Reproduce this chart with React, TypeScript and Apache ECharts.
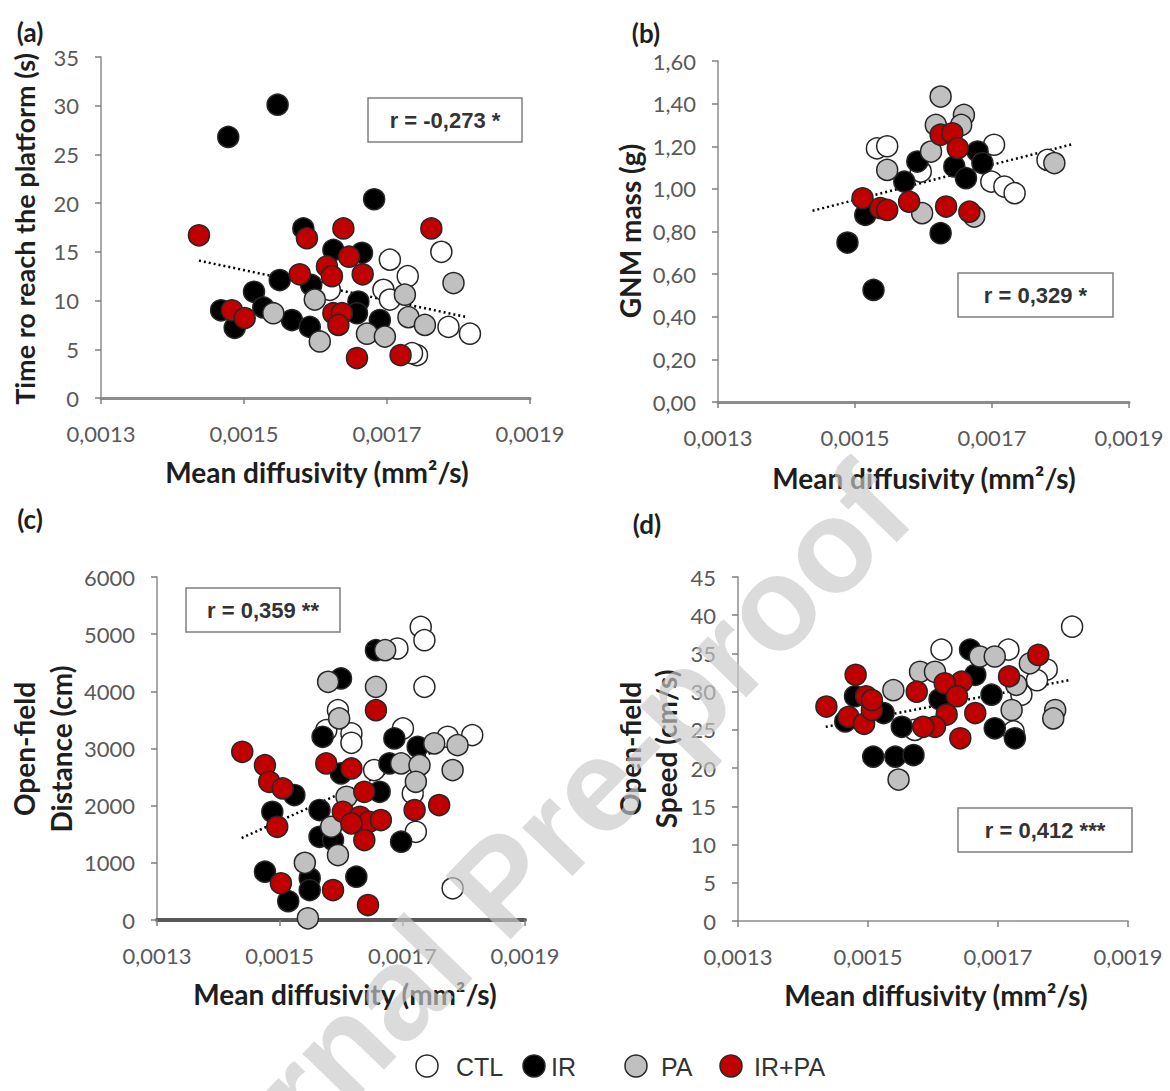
import React, { useEffect, useRef } from "react";
import * as echarts from "echarts";

type Pt = [number, number];

const GROUPS = ["CTL", "IR", "PA", "IR+PA"];
const GROUP_COLORS = ["#ffffff", "#000000", "#c0c0c0", "#c00000"];
const X_TICKS = [0.0013, 0.0015, 0.0017, 0.0019];

// (a) Time to reach the platform (s)
const A_CTL: Pt[] = [[0.001776, 15.0], [0.001704, 14.2], [0.001729, 12.5], [0.00162, 11.1], [0.001695, 11.1], [0.001704, 10.1], [0.001786, 7.3], [0.001816, 6.6], [0.001742, 4.4], [0.001735, 4.6]];
const A_IR: Pt[] = [[0.001478, 26.8], [0.001547, 30.1], [0.001468, 9.0], [0.001487, 7.2], [0.001514, 10.9], [0.001527, 9.3], [0.00155, 12.1], [0.001567, 8.0], [0.001583, 17.4], [0.001682, 20.4], [0.001625, 15.2], [0.001665, 14.9], [0.001594, 11.6], [0.00166, 9.9], [0.001658, 8.7], [0.00169, 8.0], [0.001592, 7.3]];
const A_PA: Pt[] = [[0.001541, 8.7], [0.001599, 10.1], [0.001725, 10.6], [0.001793, 11.8], [0.00173, 8.3], [0.001753, 7.5], [0.001606, 5.8], [0.001672, 6.6], [0.001697, 6.3]];
const A_IRPA: Pt[] = [[0.001437, 16.7], [0.001483, 9.0], [0.001501, 8.2], [0.001588, 16.4], [0.001639, 17.4], [0.001762, 17.4], [0.001647, 14.5], [0.001616, 13.5], [0.001578, 12.7], [0.001623, 12.5], [0.001666, 12.7], [0.001625, 8.7], [0.001637, 8.7], [0.001632, 7.5], [0.001658, 4.1], [0.001719, 4.4]];
const A_TREND: Pt[] = [[0.001437, 14.1], [0.001812, 8.3]];

// (b) GNM mass (g)
const B_CTL: Pt[] = [[0.001532, 1.19], [0.001547, 1.2], [0.001703, 1.207], [0.001596, 1.081], [0.001699, 1.034], [0.001718, 1.011], [0.001733, 0.98], [0.001781, 1.136]];
const B_IR: Pt[] = [[0.001515, 0.878], [0.001489, 0.748], [0.001527, 0.526], [0.001679, 1.175], [0.001686, 1.121], [0.001645, 1.105], [0.001591, 1.128], [0.001572, 1.034], [0.001662, 1.05], [0.001625, 0.792]];
const B_PA: Pt[] = [[0.001625, 1.433], [0.001659, 1.347], [0.001655, 1.3], [0.001618, 1.3], [0.001611, 1.175], [0.001547, 1.089], [0.001791, 1.121], [0.001598, 0.886], [0.001674, 0.87]];
const B_IRPA: Pt[] = [[0.001511, 0.956], [0.001537, 0.91], [0.001547, 0.901], [0.001579, 0.94], [0.001633, 0.917], [0.001667, 0.893], [0.001625, 1.254], [0.001642, 1.261], [0.00165, 1.191]];
const B_TREND: Pt[] = [[0.001438, 0.897], [0.001819, 1.211]];

// (c) Open-field distance (cm)
const C_CTL: Pt[] = [[0.00173, 5127], [0.001736, 4894], [0.001692, 4749], [0.001736, 4078], [0.001595, 3671], [0.001576, 3321], [0.001617, 3263], [0.001617, 3100], [0.001701, 3351], [0.001774, 3205], [0.001814, 3234], [0.001654, 2622], [0.001717, 2215], [0.001722, 1543], [0.001782, 554]];
const C_IR: Pt[] = [[0.001524, 2185], [0.001488, 1893], [0.001476, 845], [0.001514, 330], [0.001657, 4720], [0.0016, 4225], [0.00157, 3205], [0.001687, 3176], [0.001725, 3030], [0.001679, 2739], [0.0016, 2564], [0.001663, 2243], [0.001565, 1923], [0.001565, 1456], [0.001587, 1398], [0.001698, 1369], [0.001549, 729], [0.001549, 524], [0.001625, 757]];
const C_PA: Pt[] = [[0.001541, 1000], [0.001672, 4720], [0.001579, 4166], [0.001657, 4078], [0.001597, 3526], [0.001752, 3089], [0.00179, 3059], [0.001782, 2622], [0.001698, 2739], [0.001728, 2709], [0.001722, 2418], [0.001609, 2155], [0.001584, 1631], [0.001595, 1136], [0.001546, 30]];
const C_IRPA: Pt[] = [[0.001439, 2942], [0.001476, 2709], [0.001483, 2418], [0.001505, 2302], [0.001496, 1631], [0.001502, 641], [0.001657, 3671], [0.001576, 2739], [0.001617, 2651], [0.001638, 2243], [0.00172, 1923], [0.00176, 2010], [0.001603, 1893], [0.001631, 1806], [0.001646, 1718], [0.001665, 1748], [0.001617, 1690], [0.001638, 1398], [0.001587, 524], [0.001644, 262]];
const C_TREND: Pt[] = [[0.001438, 1434], [0.001814, 3250]];

// (d) Open-field speed (cm/s)
const D_CTL: Pt[] = [[0.001814, 38.5], [0.001613, 35.5], [0.001716, 35.5], [0.001775, 32.9], [0.001736, 29.6], [0.001724, 24.8], [0.001572, 25.0], [0.00176, 31.5]];
const D_IR: Pt[] = [[0.00148, 29.4], [0.001465, 26.1], [0.001508, 21.5], [0.001657, 35.5], [0.001726, 23.9], [0.001695, 25.2], [0.00169, 29.6], [0.001665, 32.2], [0.001552, 25.4], [0.001524, 27.2], [0.001542, 21.5], [0.00157, 21.7], [0.00161, 29.0]];
const D_PA: Pt[] = [[0.001672, 34.6], [0.001695, 34.6], [0.001749, 33.7], [0.001728, 30.9], [0.001721, 27.6], [0.001788, 27.6], [0.001785, 26.5], [0.00158, 32.6], [0.001603, 32.6], [0.001539, 30.2], [0.001547, 18.5]];
const D_IRPA: Pt[] = [[0.001436, 28.05], [0.001481, 32.2], [0.001497, 29.4], [0.00147, 26.7], [0.001494, 25.8], [0.001506, 27.6], [0.001762, 34.8], [0.001717, 32.0], [0.001644, 31.3], [0.001618, 31.1], [0.001637, 29.4], [0.001575, 30.0], [0.001665, 27.2], [0.001621, 27.0], [0.001603, 25.4], [0.001585, 25.4], [0.001642, 23.9], [0.001506, 28.9]];
const D_TREND: Pt[] = [[0.001435, 25.4], [0.001809, 31.5]];

const R_LABELS = ["r = -0,273 *", "r = 0,329 *", "r = 0,359 **", "r = 0,412 ***"];
const Y_NAMES = ["Time ro reach the platform (s)", "GNM mass (g)", "Open-field\nDistance (cm)", "Open-field\nSpeed (cm/s)"];
const X_NAME = "Mean diffusivity (mm²/s)";
const PANEL_LETTERS = ["(a)", "(b)", "(c)", "(d)"];

const PANELS = [
  { grid: { left: 101, top: 57, width: 429, height: 341 }, yMax: 35, yInt: 5, dec: 0, series: [A_CTL, A_IR, A_PA, A_IRPA], trend: A_TREND, xw: 3, xc: "#8c8c8c" },
  { grid: { left: 718, top: 61, width: 411, height: 341 }, yMax: 1.6, yInt: 0.2, dec: 2, series: [B_CTL, B_IR, B_PA, B_IRPA], trend: B_TREND, xw: 3, xc: "#8c8c8c" },
  { grid: { left: 157, top: 577, width: 368, height: 343 }, yMax: 6000, yInt: 1000, dec: 0, series: [C_CTL, C_IR, C_PA, C_IRPA], trend: C_TREND, xw: 4, xc: "#5a5a5a" },
  { grid: { left: 738, top: 577, width: 390, height: 344 }, yMax: 45, yInt: 5, dec: 0, series: [D_CTL, D_IR, D_PA, D_IRPA], trend: D_TREND, xw: 1.5, xc: "#8c8c8c" },
];

const LABEL_FONT = "Lato";
const TICK_COLOR = "#595959";

function text(t: string, x: number, y: number, o: any = {}) {
  return {
    type: "text",
    x,
    y,
    rotation: o.rot || 0,
    z: o.z || 50,
    silent: true,
    style: {
      text: t,
      fill: o.color || "#1e1e1e",
      fontSize: o.size || 24,
      fontWeight: o.weight || "bold",
      fontFamily: o.family || LABEL_FONT,
      textAlign: o.align || "center",
      textVerticalAlign: "middle",
      lineHeight: o.lh,
    },
  };
}

function buildOption() {
  const grid = PANELS.map((p) => ({ ...p.grid, containLabel: false }));
  const xAxis = PANELS.map((p, i) => ({
    gridIndex: i,
    type: "value",
    min: 0.0013,
    max: 0.0019,
    axisLine: { show: true, onZero: false, lineStyle: { color: p.xc, width: p.xw } },
    axisTick: { show: true, customValues: X_TICKS, length: 6, lineStyle: { color: "#7f7f7f", width: 1.5 } },
    axisLabel: {
      customValues: X_TICKS,
      formatter: (v: number) => v.toFixed(4).replace(".", ","),
      color: TICK_COLOR,
      fontSize: 22,
      fontFamily: LABEL_FONT,
      margin: 24,
    },
    splitLine: { show: false },
  }));
  const yAxis = PANELS.map((p, i) => ({
    gridIndex: i,
    type: "value",
    min: 0,
    max: p.yMax,
    interval: p.yInt,
    axisLine: { show: true, onZero: false, lineStyle: { color: "#8c8c8c", width: 1.5 } },
    axisTick: { show: true, length: 6, lineStyle: { color: "#7f7f7f", width: 1.5 } },
    axisLabel: {
      formatter: (v: number) => v.toFixed(p.dec).replace(".", ","),
      color: TICK_COLOR,
      fontSize: 22,
      fontFamily: LABEL_FONT,
      margin: 22,
    },
    splitLine: { show: false },
  }));

  const series: any[] = [];
  PANELS.forEach((p, i) => {
    series.push({
      type: "line",
      xAxisIndex: i,
      yAxisIndex: i,
      data: p.trend,
      symbol: "none",
      silent: true,
      z: 1,
      lineStyle: { color: "#000", width: 2.5, type: [2, 3] },
    });
    p.series.forEach((data, g) => {
      series.push({
        type: "scatter",
        name: GROUPS[g],
        xAxisIndex: i,
        yAxisIndex: i,
        data,
        symbol: "circle",
        symbolSize: 21,
        z: 2 + g,
        itemStyle: { color: GROUP_COLORS[g], borderColor: "#262626", borderWidth: 1.5, opacity: 1 },
      });
    });
  });

  const graphic: any[] = [];
  // panel letters
  graphic.push(text(PANEL_LETTERS[0], 30, 32, { size: 26 }));
  graphic.push(text(PANEL_LETTERS[1], 646, 33, { size: 26 }));
  graphic.push(text(PANEL_LETTERS[2], 30, 519, { size: 26 }));
  graphic.push(text(PANEL_LETTERS[3], 647, 524, { size: 26 }));
  // y names
  graphic.push(text(Y_NAMES[0], 24, 229, { rot: Math.PI / 2, size: 27 }));
  graphic.push(text(Y_NAMES[1], 630, 231, { rot: Math.PI / 2, size: 28 }));
  graphic.push(text(Y_NAMES[2], 42, 749, { rot: Math.PI / 2, size: 28, lh: 37 }));
  graphic.push(text(Y_NAMES[3], 648, 749, { rot: Math.PI / 2, size: 28, lh: 36 }));
  // x names
  graphic.push(text(X_NAME, 317, 472, { size: 28 }));
  graphic.push(text(X_NAME, 924, 478, { size: 28 }));
  graphic.push(text(X_NAME, 345, 994, { size: 28 }));
  graphic.push(text(X_NAME, 936, 995, { size: 28 }));
  // r boxes
  const boxes = [
    [368, 98, 154, 44],
    [958, 273, 155, 44],
    [186, 588, 154, 44],
    [958, 808, 174, 44],
  ];
  boxes.forEach((b, i) => {
    graphic.push({
      type: "rect",
      z: 40,
      silent: true,
      shape: { x: b[0], y: b[1], width: b[2], height: b[3] },
      style: { fill: "#ffffff", stroke: "#7f7f7f", lineWidth: 1.5 },
    });
    graphic.push(text(R_LABELS[i], b[0] + b[2] / 2, b[1] + b[3] / 2, { size: 22, family: "Liberation Sans", color: "#333333" }));
  });
  // legend
  const legCx = [427, 534, 636, 731];
  const legTx = [456, 551, 661, 754];
  const legY = 1066;
  GROUPS.forEach((g, i) => {
    graphic.push({
      type: "circle",
      z: 40,
      silent: true,
      shape: { cx: legCx[i], cy: legY, r: 11 },
      style: { fill: GROUP_COLORS[i], stroke: "#262626", lineWidth: 1.5 },
    });
    graphic.push(text(g, legTx[i], legY + 1, { size: 25, weight: "normal", family: "Liberation Sans", color: "#333333", align: "left" }));
  });
  // watermark
  graphic.push(
    text("Journal Pre-proof", 500, 885, {
      rot: 0.8,
      size: 132,
      weight: "bold",
      family: "Liberation Sans",
      color: "rgba(200,200,200,0.66)",
      z: 100,
    })
  );

  return {
    animation: false,
    backgroundColor: "#ffffff",
    grid,
    xAxis,
    yAxis,
    series,
    graphic,
  };
}

export default function App() {
  const ref = useRef<HTMLDivElement>(null);
  useEffect(() => {
    if (!ref.current) return;
    const chart = echarts.init(ref.current, undefined, { renderer: "svg" });
    chart.setOption(buildOption() as any);
    return () => chart.dispose();
  }, []);
  return (
    <div
      ref={ref}
      style={{ position: "absolute", left: 0, top: 0, width: 1170, height: 1091, background: "#fff" }}
    />
  );
}
